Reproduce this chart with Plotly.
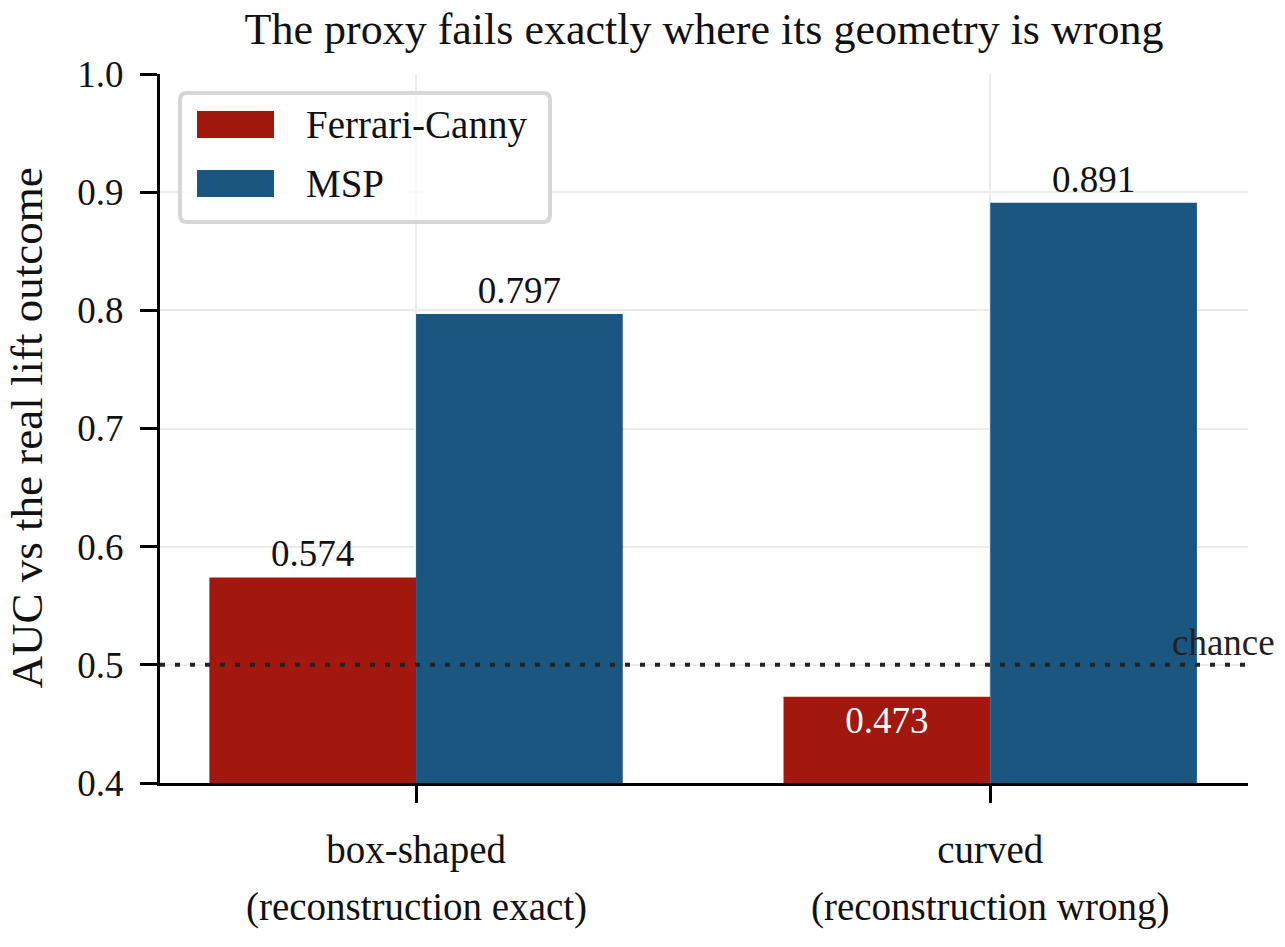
import plotly.graph_objects as go

# ---------------- data ----------------
CATEGORIES = ["box-shaped", "curved"]
CATEGORY_NOTES = ["(reconstruction exact)", "(reconstruction wrong)"]
SERIES_NAMES = ["Ferrari-Canny", "MSP"]
FERRARI_CANNY = [0.574, 0.473]
MSP = [0.797, 0.891]
Y_TICKS = [0.4, 0.5, 0.6, 0.7, 0.8, 0.9, 1.0]
X_RANGE = [-0.446, 1.449]
CHANCE = 0.5
CHANCE_LABEL = "chance"
TITLE = "The proxy fails exactly where its geometry is wrong"
Y_TITLE = "AUC vs the real lift outcome"

# ---------------- style ----------------
RED = "#a2170e"
BLUE = "#1a5680"
FONT = "Liberation Serif"
FS = 37        # numbers
FS_TXT = 39    # words
FS_TITLE = 44
FS_YTITLE = 45
GRID = "#ebebeb"
INK = "#111111"

W, H = 1285, 947
ML, MR, MT, MB = 160, 37, 74, 164
PW, PH = W - ML - MR, H - MT - MB


def px_x(px):
    """page pixel x -> paper fraction"""
    return (px - ML) / PW


def px_y(py):
    """page pixel y -> paper fraction"""
    return (H - MB - py) / PH


xs = list(range(len(CATEGORIES)))

fig = go.Figure()
# chance reference line (first trace -> drawn beneath the bars)
fig.add_trace(go.Scatter(
    x=X_RANGE, y=[CHANCE, CHANCE], mode="lines",
    line=dict(color="#222222", width=4, dash="5px,10px"),
    hoverinfo="skip", showlegend=False, cliponaxis=False,
))
for name, vals, color in [(SERIES_NAMES[0], FERRARI_CANNY, RED), (SERIES_NAMES[1], MSP, BLUE)]:
    fig.add_trace(go.Bar(
        x=xs, y=vals, name=name,
        marker=dict(color=color, line=dict(width=0)),
        text=[f"{v:.3f}" for v in vals],
        textposition=["outside" if v >= CHANCE else "inside" for v in vals],
        insidetextanchor="end",
        textfont=dict(family=FONT, size=FS,
                      color=[INK if v >= CHANCE else "white" for v in vals]),
        cliponaxis=False,
        showlegend=False,
    ))

shapes = []
# custom legend box (rounded)
x0, x1 = px_x(180), px_x(550)
y0, y1 = px_y(222), px_y(93)
rx, ry = 7 / PW, 7 / PH
path = (f"M{x0+rx},{y1} L{x1-rx},{y1} Q{x1},{y1} {x1},{y1-ry} "
        f"L{x1},{y0+ry} Q{x1},{y0} {x1-rx},{y0} "
        f"L{x0+rx},{y0} Q{x0},{y0} {x0},{y0+ry} "
        f"L{x0},{y1-ry} Q{x0},{y1} {x0+rx},{y1} Z")
shapes.append(dict(type="path", xref="paper", yref="paper", path=path,
                   fillcolor="rgba(255,255,255,0.8)",
                   line=dict(color="#d6d6d6", width=4), layer="above"))

annotations = []
legend_rows = [(SERIES_NAMES[0], RED, 111, 138), (SERIES_NAMES[1], BLUE, 170, 197)]
for name, color, top, bot in legend_rows:
    shapes.append(dict(type="rect", xref="paper", yref="paper",
                       x0=px_x(197), x1=px_x(274), y0=px_y(bot), y1=px_y(top),
                       fillcolor=color, line=dict(width=0), layer="above"))
    annotations.append(dict(text=name, xref="paper", yref="paper",
                            x=px_x(304), y=px_y((top + bot) / 2),
                            xanchor="left", yanchor="middle", showarrow=False,
                            font=dict(family=FONT, size=FS_TXT, color=INK)))

# chance label
annotations.append(dict(text=CHANCE_LABEL, xref="paper", yref="y",
                        x=px_x(1277), y=CHANCE, xanchor="right", yanchor="bottom",
                        showarrow=False, yshift=0,
                        font=dict(family=FONT, size=FS, color="#222222")))

# second line of category labels
for i, note in enumerate(CATEGORY_NOTES):
    annotations.append(dict(text=note, xref="x", yref="paper", x=xs[i], y=0,
                            yanchor="middle", xanchor="center", yshift=-(907 - 783),
                            showarrow=False,
                            font=dict(family=FONT, size=FS_TXT, color=INK)))

# y-axis title (rotated)
annotations.append(dict(text=Y_TITLE, xref="paper", yref="paper", x=px_x(26), y=0.5,
                        xanchor="center", yanchor="middle", textangle=-90, showarrow=False,
                        borderpad=0,
                        font=dict(family=FONT, size=FS_YTITLE, color=INK)))

fig.update_layout(
    width=W, height=H, autosize=False,
    margin=dict(l=ML, r=MR, t=MT, b=MB, pad=0),
    paper_bgcolor="white", plot_bgcolor="white",
    barmode="group", bargap=0.28, bargroupgap=0,
    font=dict(family=FONT, size=FS, color=INK),
    title=dict(text=TITLE, x=0.5, xref="paper", xanchor="center",
               y=1 - 29 / H, yref="container", yanchor="middle",
               font=dict(family=FONT, size=FS_TITLE, color=INK)),
    shapes=shapes, annotations=annotations,
    showlegend=False,
)

fig.update_xaxes(
    range=X_RANGE, tickvals=xs, ticktext=CATEGORIES,
    ticks="outside", ticklen=17, tickwidth=3, tickcolor="black",
    showline=True, linewidth=3, linecolor="black",
    showgrid=True, gridcolor=GRID, gridwidth=1.5, zeroline=False,
    tickfont=dict(family=FONT, size=FS_TXT, color=INK),
    ticklabelstandoff=13, automargin=False,
)
fig.update_yaxes(
    range=[Y_TICKS[0], Y_TICKS[-1]], tickvals=Y_TICKS, ticktext=[f"{t:.1f}" for t in Y_TICKS],
    ticks="outside", ticklen=17, tickwidth=3, tickcolor="black",
    showline=True, linewidth=3, linecolor="black",
    showgrid=True, gridcolor=GRID, gridwidth=1.5, zeroline=False,
    tickfont=dict(family=FONT, size=FS, color=INK),
    ticklabelstandoff=9, automargin=False,
)

fig.write_html(
    "out.html",
    config={"displayModeBar": False},
    post_script="document.body.style.margin='0';document.body.style.overflow='hidden';",
)
